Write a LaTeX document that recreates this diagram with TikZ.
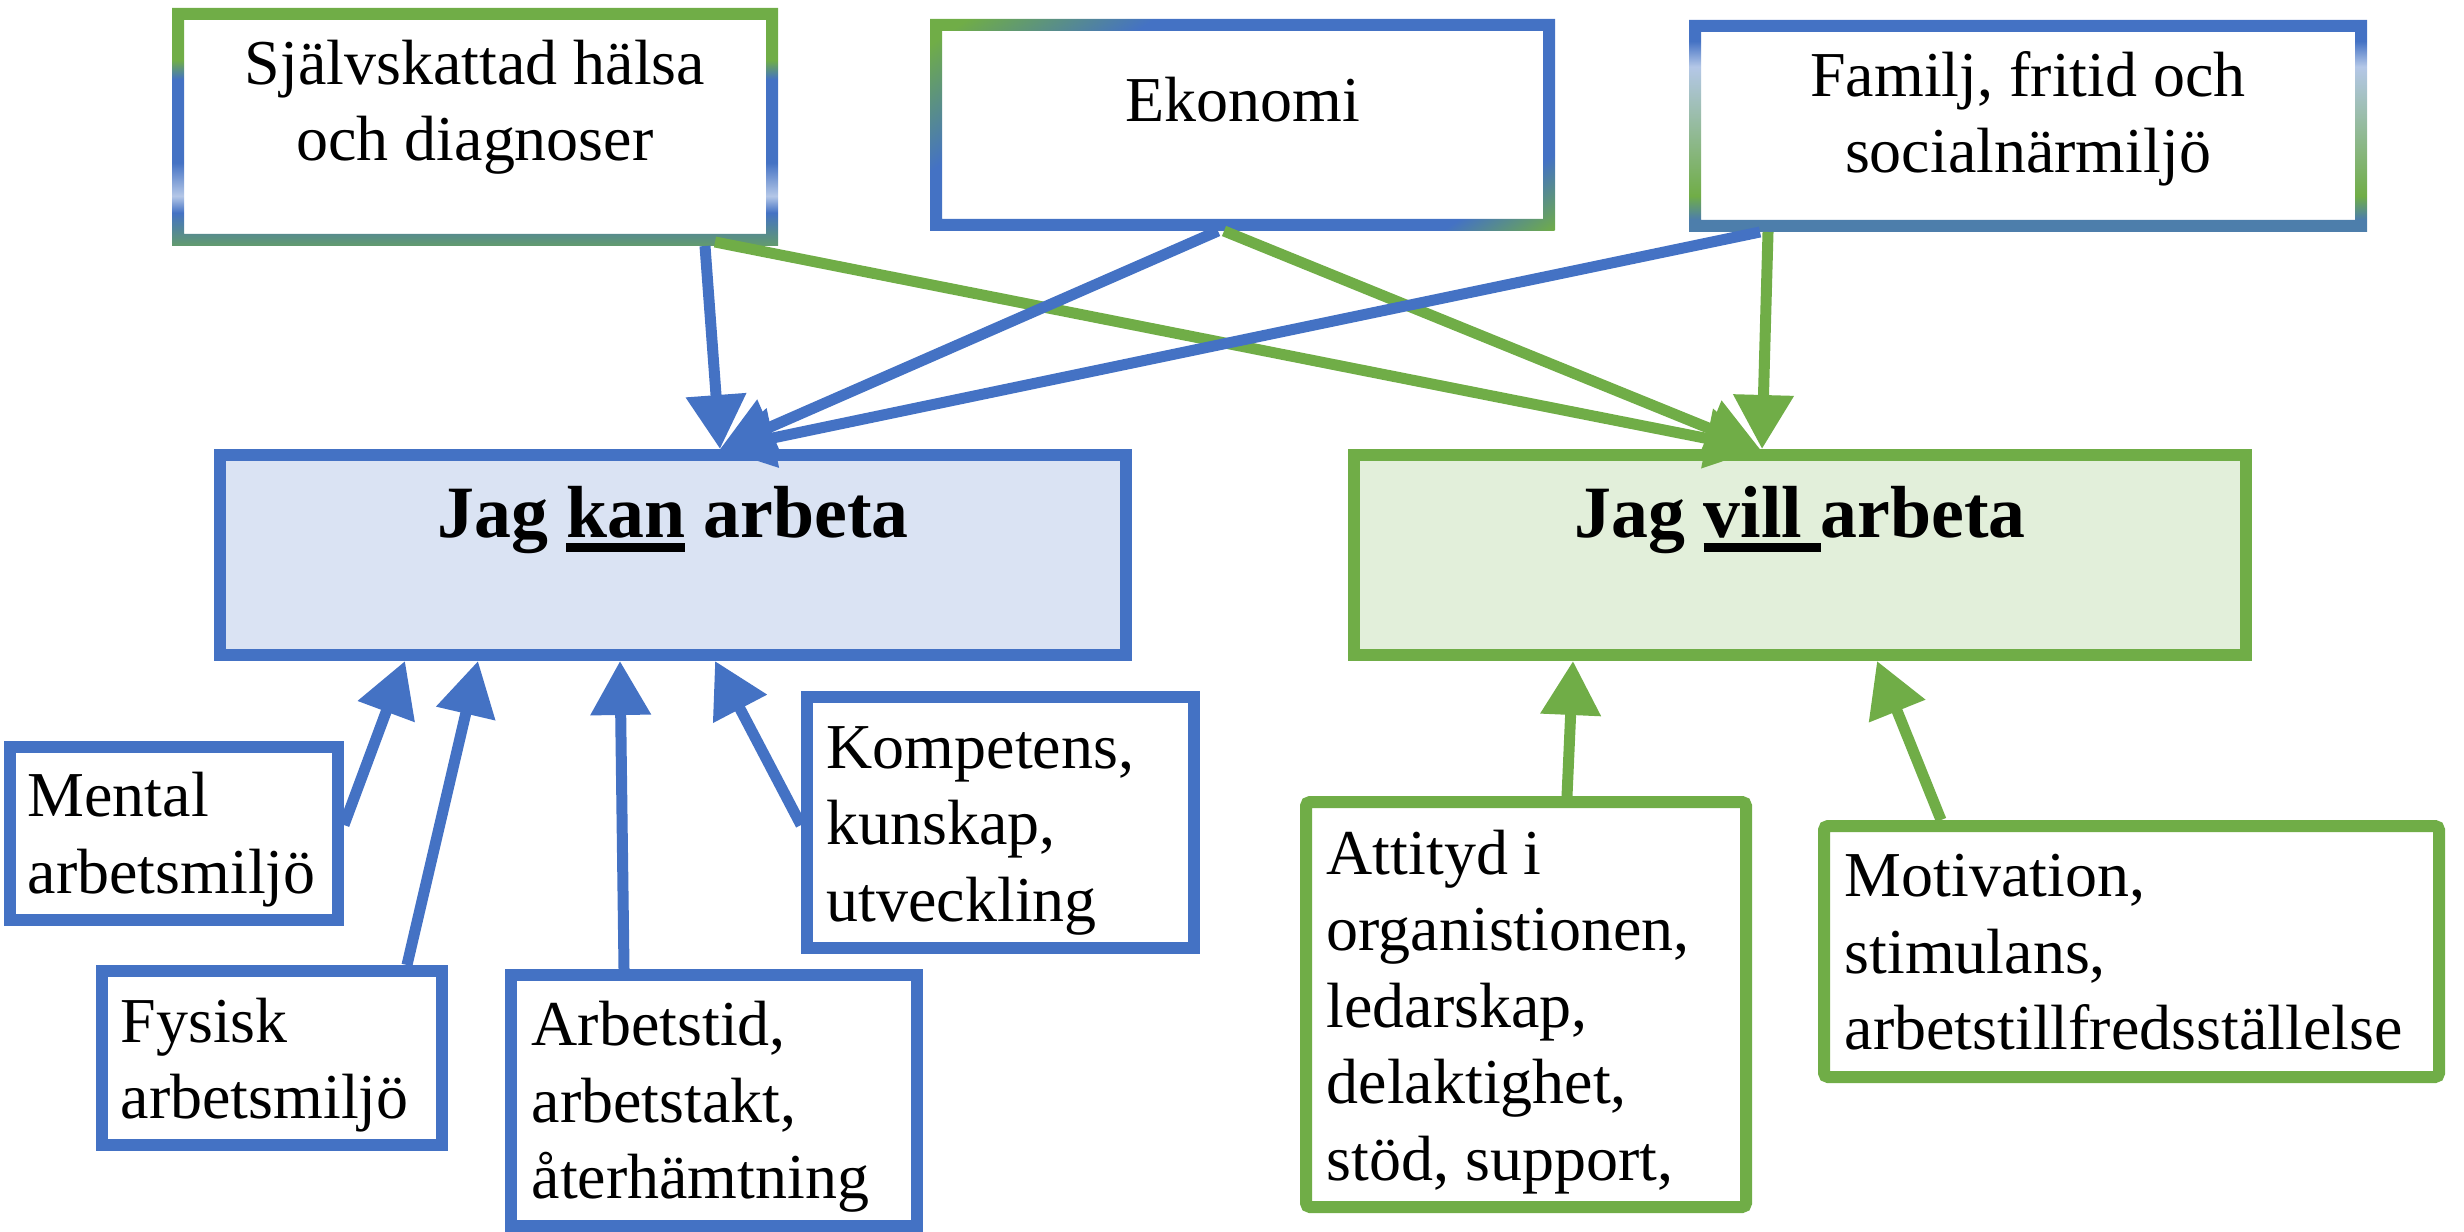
\documentclass[tikz,border=0pt]{standalone}
\usepackage{fontspec}
\setmainfont{Liberation Serif}
\usetikzlibrary{arrows.meta,calc}

\definecolor{blueC}{HTML}{4472C4}
\definecolor{greenC}{HTML}{70AD47}
\definecolor{lightB}{HTML}{B4C7E7}
\definecolor{kanFill}{HTML}{DAE3F3}
\definecolor{villFill}{HTML}{E2EFDA}
\colorlet{halsaBottom}{greenC!70!blueC}
\colorlet{famBottom}{blueC!80!greenC}

% Frame gradients of the three factor boxes (25bp = bottom/left, 75bp = top/right)
\pgfdeclareverticalshading{halsaGrad}{100bp}{%
  color(0bp)=(halsaBottom); color(25bp)=(halsaBottom); color(32bp)=(blueC);
  color(35.5bp)=(lightB); color(42.5bp)=(blueC); color(60bp)=(blueC);
  color(64bp)=(greenC); color(75bp)=(greenC); color(100bp)=(greenC)}
% diagonal gradient, laid along the rotated x axis
\pgfdeclarehorizontalshading{ekoGrad}{100bp}{%
  color(0bp)=(greenC); color(27bp)=(greenC); color(37bp)=(blueC);
  color(69bp)=(blueC); color(75bp)=(greenC); color(100bp)=(greenC)}
\pgfdeclareverticalshading{famGrad}{100bp}{%
  color(0bp)=(famBottom); color(28bp)=(famBottom); color(33.5bp)=(greenC);
  color(64bp)=(lightB); color(70bp)=(blueC); color(100bp)=(blueC)}

\newcommand\txtsize{\fontsize{18.2pt}{21.75pt}\selectfont}
\newcommand\titlesize{\fontsize{21pt}{25pt}\selectfont\bfseries}
% thick underline placed just below the baseline
\newcommand\ulword[1]{\setbox0\hbox{#1}\rlap{\rule[-1.45mm]{\wd0}{0.85mm}}\box0\relax}

\begin{document}
\begin{tikzpicture}[x=0.1mm,y=-0.1mm,
  topbox/.style={fill=white,inner sep=0pt,outer sep=0pt},
  toptext/.style={font=\txtsize,align=flush center,anchor=base,inner sep=0pt},
  mainbox/.style={line width=1.2mm,inner sep=0pt,outer sep=0pt,minimum height=20mm},
  titletext/.style={font=\titlesize,anchor=base,inner sep=0pt},
  lowbox/.style={line width=1.2mm,fill=white,inner sep=0pt,outer sep=0pt},
  bluebox/.style={lowbox,draw=blueC},
  greenbox/.style={lowbox,draw=greenC,rounded corners=0.4mm},
  lowtext/.style={font=\txtsize,align=flush left,anchor=base west,inner sep=0pt},
  link/.style={line width=1.1mm,-{Triangle[length=5.4mm,width=5.8mm]}},
  bluelink/.style={link,draw=blueC,fill=blueC},
  greenlink/.style={link,draw=greenC,fill=greenC}]

\useasboundingbox (0,0) rectangle (2464,1232);

% ---- factor boxes on top, with gradient frames ----
\node[topbox,minimum width=59.4mm,minimum height=22.6mm] (halsa) at (475,127) {};
\node[topbox,minimum width=61.3mm,minimum height=20mm] (eko) at (1242.5,125) {};
\node[topbox,minimum width=66.6mm,minimum height=20mm] (fam) at (2028,126) {};

\shade[shading=halsaGrad,even odd rule]
  ([shift={(-6,-6)}]halsa.north west) rectangle ([shift={(6,6)}]halsa.south east)
  ([shift={(6,6)}]halsa.north west) rectangle ([shift={(-6,-6)}]halsa.south east);

\coordinate (ekoCorner) at ([shift={(-6,-6)}]eko.north west);
\begin{scope}[even odd rule]
  \clip
    (ekoCorner) rectangle ([shift={(6,6)}]eko.south east)
    ([shift={(6,6)}]eko.north west) rectangle ([shift={(-6,-6)}]eko.south east);
  \begin{scope}[transform canvas={rotate around={-55.8:(ekoCorner)}}]
    \shade[shading=ekoGrad] ([shift={(0,-800)}]ekoCorner) rectangle ([shift={(526,800)}]ekoCorner);
  \end{scope}
\end{scope}

\shade[shading=famGrad,even odd rule]
  ([shift={(-6,-6)}]fam.north west) rectangle ([shift={(6,6)}]fam.south east)
  ([shift={(6,6)}]fam.north west) rectangle ([shift={(-6,-6)}]fam.south east);

% multi-line text: the base anchor sits on the last line
\node[toptext] (halsaText) at (475,161) {Självskattad hälsa\\och diagnoser};
\node[toptext] (ekoText) at (1242.5,122) {Ekonomi};
\node[toptext] (famText) at (2028,173) {Familj, fritid och\\socialnärmiljö};

% ---- the two main boxes ----
\node[mainbox,draw=blueC,fill=kanFill,minimum width=90.6mm] (kan) at (673,555) {};
\node[mainbox,draw=greenC,fill=villFill,minimum width=89.2mm] (vill) at (1800,555) {};
\node[titletext] (kanText) at (673,537) {Jag \ulword{kan} arbeta};
\node[titletext] (villText) at (1800,537) {Jag \ulword{vill\ }arbeta};

% ---- work-related boxes ----
\node[bluebox,minimum width=32.8mm,minimum height=17.3mm] (mental) at (174,833.5) {};
\node[bluebox,minimum width=34mm,minimum height=17.4mm] (fysisk) at (272,1058) {};
\node[bluebox,minimum width=40.6mm,minimum height=25.1mm] (arbtid) at (714,1100.5) {};
\node[bluebox,minimum width=38.7mm,minimum height=25.1mm] (komp) at (1000.5,822.5) {};
\node[greenbox,minimum width=44mm,minimum height=40.5mm] (attityd) at (1526,1004.5) {};
\node[greenbox,minimum width=61.5mm,minimum height=25.1mm] (motiv) at (2131.5,951.5) {};

\node[lowtext] (mentalText) at (27,893) {Mental\\arbetsmiljö};
\node[lowtext] (fysiskText) at (120,1118.5) {Fysisk\\arbetsmiljö};
\node[lowtext] (arbtidText) at (531,1198.5) {Arbetstid,\\arbetstakt,\\återhämtning};
\node[lowtext] (kompText) at (826,921) {Kompetens,\\kunskap,\\utveckling};
\node[lowtext] (attitydText) at (1326,1180)
  {Attityd i\\organistionen,\\ledarskap,\\delaktighet,\\stöd, support,};
\node[lowtext] (motivText) at (1844,1049.5)
  {Motivation,\\stimulans,\\arbetstillfredsställelse};

% ---- connectors from the factor boxes ----
\draw[greenlink] ([shift={(240,2)}]halsa.south) -- ([shift={(-40,-6)}]vill.north);
\draw[greenlink] ([shift={(-18.5,6)}]eko.south) -- ([shift={(-40,-6)}]vill.north);
\draw[greenlink] ([shift={(-260,6)}]fam.south) -- ([shift={(-38,-6)}]vill.north);
\draw[bluelink] ([shift={(230,6)}]halsa.south) -- ([shift={(47,-6)}]kan.north);
\draw[bluelink] ([shift={(-24.5,6)}]eko.south) -- ([shift={(47,-6)}]kan.north);
\draw[bluelink] ([shift={(-268,6)}]fam.south) -- ([shift={(47,-6)}]kan.north);

% ---- connectors into the main boxes ----
\draw[bluelink] ([shift={(6,-8.5)}]mental.east) -- ([shift={(-268,6)}]kan.south);
\draw[bluelink] ([shift={(135,-6)}]fysisk.north) -- ([shift={(-195,6)}]kan.south);
\draw[bluelink] ([shift={(-90,-6)}]arbtid.north) -- ([shift={(-53,6)}]kan.south);
\draw[bluelink] ([shift={(-6,2.5)}]komp.west) -- ([shift={(42,6)}]kan.south);
\draw[greenlink] ([shift={(41,-6)}]attityd.north) -- ([shift={(-227,6)}]vill.south);
\draw[greenlink] ([shift={(-190.5,-6)}]motiv.north) -- ([shift={(77,6)}]vill.south);
\end{tikzpicture}
\end{document}
